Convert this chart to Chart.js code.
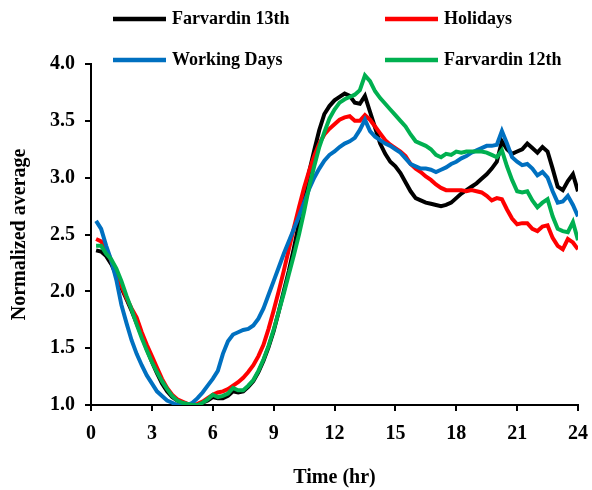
<!DOCTYPE html>
<html>
<head>
<meta charset="utf-8">
<script src="https://cdn.jsdelivr.net/npm/chart.js@4.4.1/dist/chart.umd.min.js"></script>
<style>
	html, body { margin: 0; padding: 0; background: #fff; }
	#wrap { width: 592px; height: 490px; }
</style>
</head>
<body>
<div id="wrap"><canvas id="loadChart" width="592" height="490"></canvas></div>
<script>
// hours of the day, one reading every 15 minutes
var hours = [];
for (var i = 1; i <= 96; i++) hours.push(i / 4);

var xTicks = [0, 3, 6, 9, 12, 15, 18, 21, 24];
var yTicks = [1.0, 1.5, 2.0, 2.5, 3.0, 3.5, 4.0];

var farvardin13 = [
	2.36, 2.35, 2.31, 2.24, 2.14, 2.03, 1.93, 1.83, 1.72, 1.61, 1.49, 1.38,
	1.28, 1.19, 1.12, 1.07, 1.04, 1.02, 1.01, 1.00, 1.00, 1.02, 1.04, 1.07,
	1.06, 1.06, 1.08, 1.12, 1.11, 1.12, 1.16, 1.21, 1.29, 1.39, 1.51, 1.65,
	1.82, 2.00, 2.18, 2.38, 2.60, 2.83, 3.05, 3.24, 3.42, 3.56, 3.63, 3.68,
	3.71, 3.74, 3.72, 3.66, 3.65, 3.72, 3.58, 3.44, 3.30, 3.21, 3.14, 3.10,
	3.04, 2.96, 2.88, 2.82, 2.80, 2.78, 2.77, 2.76, 2.75, 2.76, 2.78, 2.82,
	2.86, 2.89, 2.92, 2.95, 2.99, 3.03, 3.08, 3.14, 3.32, 3.25, 3.21, 3.23,
	3.25, 3.30, 3.26, 3.22, 3.27, 3.23, 3.08, 2.92, 2.89, 2.97, 3.03, 2.88
];

var holidays = [
	2.46, 2.44, 2.37, 2.27, 2.16, 2.05, 1.94, 1.85, 1.77, 1.64, 1.53, 1.43,
	1.33, 1.23, 1.15, 1.09, 1.05, 1.03, 1.01, 1.00, 1.01, 1.03, 1.06, 1.09,
	1.11, 1.12, 1.14, 1.17, 1.20, 1.24, 1.29, 1.35, 1.43, 1.53, 1.67, 1.83,
	2.00, 2.18, 2.37, 2.56, 2.74, 2.91, 3.06, 3.19, 3.30, 3.38, 3.43, 3.47,
	3.51, 3.53, 3.54, 3.50, 3.50, 3.55, 3.51, 3.45, 3.39, 3.33, 3.29, 3.26,
	3.23, 3.19, 3.12, 3.08, 3.05, 3.01, 2.98, 2.94, 2.91, 2.89, 2.89, 2.89,
	2.89, 2.88, 2.89, 2.88, 2.87, 2.84, 2.80, 2.82, 2.81, 2.72, 2.64, 2.59,
	2.60, 2.60, 2.55, 2.53, 2.57, 2.58, 2.47, 2.40, 2.37, 2.46, 2.43, 2.37
];

var workingDays = [
	2.62, 2.55, 2.40, 2.27, 2.10, 1.88, 1.72, 1.57, 1.45, 1.35, 1.26, 1.19,
	1.12, 1.08, 1.04, 1.02, 1.00, 1.00, 1.00, 1.02, 1.06, 1.11, 1.17, 1.23,
	1.30, 1.45, 1.56, 1.62, 1.64, 1.66, 1.67, 1.70, 1.76, 1.85, 1.97, 2.09,
	2.21, 2.33, 2.44, 2.55, 2.66, 2.78, 2.90, 3.00, 3.08, 3.15, 3.20, 3.23,
	3.27, 3.30, 3.32, 3.35, 3.42, 3.51, 3.41, 3.36, 3.33, 3.30, 3.28, 3.25,
	3.22, 3.17, 3.12, 3.10, 3.08, 3.08, 3.07, 3.05, 3.07, 3.09, 3.12, 3.14,
	3.17, 3.19, 3.22, 3.24, 3.26, 3.28, 3.28, 3.29, 3.41, 3.30, 3.18, 3.14,
	3.11, 3.12, 3.08, 3.02, 3.05, 3.00, 2.88, 2.78, 2.79, 2.84, 2.76, 2.66
];

var farvardin12 = [
	2.40, 2.40, 2.33, 2.28, 2.20, 2.09, 1.96, 1.84, 1.71, 1.59, 1.48, 1.38,
	1.29, 1.21, 1.14, 1.08, 1.04, 1.02, 1.01, 1.00, 1.00, 1.02, 1.05, 1.09,
	1.07, 1.08, 1.10, 1.15, 1.13, 1.13, 1.17, 1.22, 1.30, 1.40, 1.52, 1.66,
	1.82, 1.98, 2.15, 2.32, 2.50, 2.70, 2.92, 3.10, 3.27, 3.40, 3.52, 3.60,
	3.66, 3.69, 3.71, 3.73, 3.77, 3.90, 3.85, 3.76, 3.70, 3.65, 3.60, 3.55,
	3.50, 3.45, 3.38, 3.32, 3.30, 3.28, 3.25, 3.20, 3.18, 3.21, 3.20, 3.23,
	3.22, 3.23, 3.23, 3.23, 3.23, 3.22, 3.20, 3.18, 3.24, 3.10, 2.98, 2.88,
	2.87, 2.88, 2.80, 2.74, 2.78, 2.81, 2.66, 2.55, 2.53, 2.52, 2.61, 2.45
];

function toPoints(values) {
	return values.map(function (v, i) {
		return { x: hours[i], y: v };
	});
}

var fontFamily = "'Liberation Serif', 'Times New Roman', serif";

// legend in two columns, second row sits over the top of the plot
var legendPlugin = {
	id: "cornerLegend",
	afterDraw: function (chart) {
		var ctx = chart.ctx;
		var items = chart.data.datasets;
		var cols = [113, 385];
		var rows = [19, 60];
		ctx.save();
		ctx.font = "bold 18px " + fontFamily;
		ctx.textBaseline = "middle";
		ctx.fillStyle = "#000";
		items.forEach(function (ds, i) {
			var x = cols[i % 2];
			var y = rows[Math.floor(i / 2)];
			ctx.strokeStyle = ds.borderColor;
			ctx.lineWidth = 4.5;
			ctx.beginPath();
			ctx.moveTo(x, y);
			ctx.lineTo(x + 53, y);
			ctx.stroke();
			ctx.fillText(ds.label, x + 59, y);
		});
		ctx.restore();
	}
};

function makeSet(label, color, values, order) {
	return {
		label: label,
		data: toPoints(values),
		borderColor: color,
		backgroundColor: color,
		borderWidth: 4,
		pointRadius: 0,
		tension: 0,
		fill: false,
		order: order
	};
}

var ctx = document.getElementById("loadChart");
var myLineChart = new Chart(ctx, {
	type: "line",
	data: {
		datasets: [
			makeSet("Farvardin 13th", "#000000", farvardin13, 4),
			makeSet("Holidays", "#ff0000", holidays, 3),
			makeSet("Working Days", "#0070c0", workingDays, 2),
			makeSet("Farvardin 12th", "#00b050", farvardin12, 1)
		]
	},
	options: {
		responsive: false,
		animation: false,
		layout: { padding: { top: 64, right: 14, left: 0, bottom: 0 } },
		plugins: {
			legend: { display: false },
			tooltip: { enabled: false }
		},
		scales: {
			x: {
				type: "linear",
				min: 0,
				max: 24,
				afterBuildTicks: function (scale) {
					scale.ticks = xTicks.map(function (v) { return { value: v }; });
				},
				afterFit: function (scale) {
					scale.height = 85;
					scale.paddingLeft = 0;
					scale.paddingRight = 0;
				},
				ticks: {
					color: "#000",
					font: { family: fontFamily, size: 20, weight: "bold" },
					padding: 11,
					maxRotation: 0
				},
				grid: { display: true, drawOnChartArea: false, drawTicks: true, tickLength: 6, color: "#000", lineWidth: 2 },
				border: { display: true, color: "#000", width: 2 },
				title: {
					display: true,
					text: "Time (hr)",
					color: "#000",
					font: { family: fontFamily, size: 20, weight: "bold" },
					padding: { top: 0, bottom: 0 }
				}
			},
			y: {
				min: 1,
				max: 4,
				afterBuildTicks: function (scale) {
					scale.ticks = yTicks.map(function (v) { return { value: v }; });
				},
				afterFit: function (scale) { scale.width = 91; },
				ticks: {
					color: "#000",
					font: { family: fontFamily, size: 20, weight: "bold" },
					padding: 10,
					callback: function (v) { return Number(v).toFixed(1); }
				},
				grid: { display: true, drawOnChartArea: false, drawTicks: true, tickLength: 6, color: "#000", lineWidth: 2 },
				border: { display: true, color: "#000", width: 2 },
				title: {
					display: true,
					text: "Normalized average",
					color: "#000",
					font: { family: fontFamily, size: 20, weight: "bold" },
					padding: { top: 8, bottom: 0 }
				}
			}
		}
	},
	plugins: [legendPlugin]
});
</script>
</body>
</html>
